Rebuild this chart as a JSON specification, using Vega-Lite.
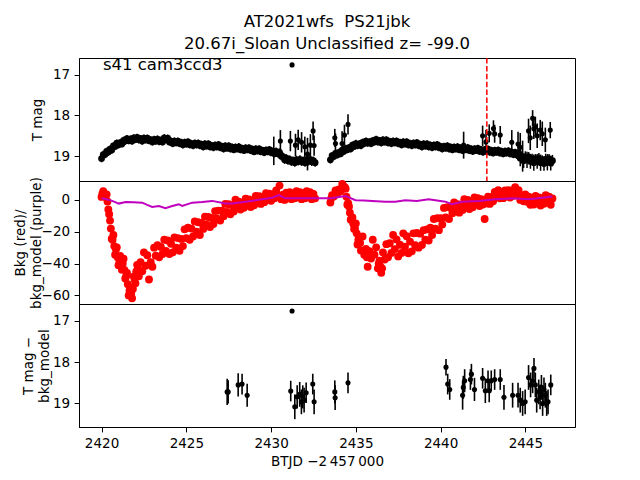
{
"$schema":"https://vega.github.io/schema/vega-lite/v6.json",
"background":"white",
"padding":{"left":12,"top":13,"right":10,"bottom":5},
"bounds":"flush",
"config":{"font":"DejaVu Sans","view":{"stroke":"black","strokeWidth":1},
"axis":{"grid":false,"domainColor":"black","tickColor":"black","tickSize":4.9,"tickWidth":1,"labelColor":"black","labelFontSize":13.5,"labelPadding":4.5,"titleColor":"black","titleFontSize":13.5,"titleFontWeight":"normal"},
"title":{"fontSize":16.5,"fontWeight":"normal","color":"black"}},
"datasets":{
"lc":[
{"t":2420.0,"m":19.06,"e":0.09,"b":1.9},{"t":2420.1,"m":18.96,"e":0.09,"b":5.5},{"t":2420.2,"m":18.96,"e":0.09,"b":2.2},{"t":2420.3,"m":18.88,"e":0.09,"b":3.4},{"t":2420.4,"m":18.90,"e":0.09,"b":-6},{"t":2420.5,"m":18.83,"e":0.09,"b":-13},{"t":2420.6,"m":18.85,"e":0.09,"b":-24.4},{"t":2420.7,"m":18.75,"e":0.09,"b":-22},{"t":2420.8,"m":18.76,"e":0.09,"b":-34.4},{"t":2420.9,"m":18.68,"e":0.09,"b":-29.8},
{"t":2421.0,"m":18.72,"e":0.09,"b":-41},{"t":2421.1,"m":18.67,"e":0.09,"b":-35.2},{"t":2421.2,"m":18.70,"e":0.09,"b":-43.8},{"t":2421.3,"m":18.61,"e":0.09,"b":-37},{"t":2421.4,"m":18.63,"e":0.09,"b":-49.4},{"t":2421.5,"m":18.57,"e":0.09,"b":-45.8},{"t":2421.6,"m":18.62,"e":0.09,"b":-60},{"t":2421.7,"m":18.58,"e":0.09,"b":-55.2},{"t":2421.8,"m":18.63,"e":0.09,"b":-61.8},{"t":2421.9,"m":18.55,"e":0.09,"b":-48},
{"t":2422.0,"m":18.59,"e":0.09,"b":-52.4},{"t":2422.1,"m":18.54,"e":0.09,"b":-40.8},{"t":2422.2,"m":18.60,"e":0.09,"b":-48},{"t":2422.3,"m":18.57,"e":0.09,"b":-39.2},{"t":2422.4,"m":18.63,"e":0.09,"b":-44.8},{"t":2422.5,"m":18.56,"e":0.09,"b":-33},{"t":2422.6,"m":18.60,"e":0.09,"b":-41.4},{"t":2422.7,"m":18.56,"e":0.09,"b":-34.8},{"t":2422.8,"m":18.62,"e":0.09,"b":-50},{"t":2422.9,"m":18.60,"e":0.09,"b":-39.2},
{"t":2423.0,"m":18.65,"e":0.09,"b":-42},{"t":2423.1,"m":18.59,"e":0.09,"b":-30},{"t":2423.2,"m":18.63,"e":0.09,"b":-35},{"t":2423.3,"m":18.58,"e":0.09,"b":-28.5},{"t":2423.4,"m":18.64,"e":0.09,"b":-36},{"t":2423.5,"m":18.61,"e":0.09,"b":-29.5},{"t":2423.6,"m":18.65,"e":0.09,"b":-34},{"t":2423.7,"m":18.55,"e":0.09,"b":-25},{"t":2423.8,"m":18.59,"e":0.09,"b":-32},{"t":2423.9,"m":18.56,"e":0.09,"b":-25.5},
{"t":2424.0,"m":18.65,"e":0.09,"b":-34},{"t":2424.1,"m":18.63,"e":0.09,"b":-27.5},{"t":2424.2,"m":18.69,"e":0.09,"b":-33},{"t":2424.3,"m":18.63,"e":0.09,"b":-23.5},{"t":2424.4,"m":18.67,"e":0.09,"b":-30},{"t":2424.5,"m":18.63,"e":0.09,"b":-24},{"t":2424.6,"m":18.69,"e":0.09,"b":-32},{"t":2424.7,"m":18.66,"e":0.09,"b":-24.5},{"t":2424.8,"m":18.72,"e":0.09,"b":-29},{"t":2424.9,"m":18.66,"e":0.09,"b":-18.5},
{"t":2425.0,"m":18.70,"e":0.09,"b":-24},{"t":2425.1,"m":18.65,"e":0.09,"b":-17.5},{"t":2425.2,"m":18.72,"e":0.09,"b":-25},{"t":2425.3,"m":18.69,"e":0.09,"b":-18},{"t":2425.4,"m":18.74,"e":0.09,"b":-23},{"t":2425.5,"m":18.68,"e":0.09,"b":-13.5},{"t":2425.6,"m":18.72,"e":0.09,"b":-20},{"t":2425.7,"m":18.68,"e":0.09,"b":-14},{"t":2425.8,"m":18.74,"e":0.09,"b":-22},{"t":2425.9,"m":18.71,"e":0.09,"b":-14.5},
{"t":2426.0,"m":18.77,"e":0.09,"b":-18.2},{"t":2426.1,"m":18.70,"e":0.09,"b":-10.5},{"t":2426.2,"m":18.75,"e":0.09,"b":-15.6},{"t":2426.3,"m":18.70,"e":0.09,"b":-10.7},{"t":2426.4,"m":18.77,"e":0.09,"b":-17},{"t":2426.5,"m":18.74,"e":0.09,"b":-11.3},{"t":2426.6,"m":18.79,"e":0.09,"b":-15.2},{"t":2426.7,"m":18.73,"e":0.09,"b":-7},{"t":2426.8,"m":18.77,"e":0.09,"b":-11.6},{"t":2426.9,"m":18.72,"e":0.09,"b":-6.7},
{"t":2427.0,"m":18.79,"e":0.09,"b":-13},{"t":2427.1,"m":18.76,"e":0.09,"b":-6.8},{"t":2427.2,"m":18.82,"e":0.09,"b":-10.2},{"t":2427.3,"m":18.75,"e":0.09,"b":-2.5},{"t":2427.4,"m":18.80,"e":0.09,"b":-7.6},{"t":2427.5,"m":18.75,"e":0.09,"b":-2.7},{"t":2427.6,"m":18.82,"e":0.09,"b":-9},{"t":2427.7,"m":18.78,"e":0.09,"b":-3.3},{"t":2427.8,"m":18.84,"e":0.09,"b":-7.2},{"t":2427.9,"m":18.78,"e":0.09,"b":0.2},
{"t":2428.0,"m":18.82,"e":0.09,"b":-4.7},{"t":2428.1,"m":18.77,"e":0.09,"b":-1.1},{"t":2428.2,"m":18.84,"e":0.09,"b":-6},{"t":2428.3,"m":18.81,"e":0.09,"b":-1.9},{"t":2428.4,"m":18.86,"e":0.09,"b":-4.9},{"t":2428.5,"m":18.80,"e":0.09,"b":0.8},{"t":2428.6,"m":18.84,"e":0.09,"b":-3.2},{"t":2428.7,"m":18.80,"e":0.09,"b":0.3},{"t":2428.8,"m":18.86,"e":0.09,"b":-4.5},{"t":2428.9,"m":18.83,"e":0.09,"b":-0.3},
{"t":2429.0,"m":18.89,"e":0.09,"b":-3.4},{"t":2429.1,"m":18.82,"e":0.09,"b":2.5},{"t":2429.2,"m":18.87,"e":0.09,"b":-1.2},{"t":2429.3,"m":18.82,"e":0.09,"b":2.3},{"t":2429.4,"m":18.89,"e":0.09,"b":-2.5},{"t":2429.5,"m":18.86,"e":0.09,"b":1.7},{"t":2429.6,"m":18.91,"e":0.09,"b":-1.4},{"t":2429.7,"m":18.85,"e":0.09,"b":4.2},{"t":2429.8,"m":18.89,"e":0.09,"b":0.3},{"t":2429.9,"m":18.84,"e":0.09,"b":3.9},
{"t":2430.0,"m":18.91,"e":0.09,"b":-0.5},{"t":2430.1,"m":18.88,"e":0.09,"b":3.3},{"t":2430.2,"m":18.94,"e":0.09,"b":1},{"t":2430.3,"m":18.88,"e":0.09,"b":6},{"t":2430.4,"m":18.94,"e":0.09,"b":3},{"t":2430.5,"m":18.91,"e":0.1,"b":9},{"t":2430.6,"m":19.00,"e":0.1,"b":0.5},{"t":2430.7,"m":19.01,"e":0.1,"b":3.3},{"t":2430.8,"m":19.09,"e":0.1,"b":0},{"t":2430.9,"m":19.05,"e":0.1,"b":4.5},
{"t":2431.0,"m":19.11,"e":0.1,"b":2},{"t":2431.1,"m":19.08,"e":0.1,"b":4.8},{"t":2431.2,"m":19.14,"e":0.1,"b":0.5},{"t":2431.3,"m":19.11,"e":0.1,"b":3.8},{"t":2431.4,"m":19.16,"e":0.1,"b":1},{"t":2431.5,"m":19.09,"e":0.1,"b":5.5},{"t":2431.6,"m":19.13,"e":0.1,"b":2},{"t":2431.7,"m":19.08,"e":0.1,"b":4.8},{"t":2431.8,"m":19.14,"e":0.1,"b":0.5},{"t":2431.9,"m":19.11,"e":0.1,"b":3.8},
{"t":2432.0,"m":19.16,"e":0.1,"b":1},{"t":2432.1,"m":19.09,"e":0.1,"b":5.5},{"t":2432.2,"m":19.13,"e":0.1,"b":2},{"t":2432.3,"m":19.08,"e":0.1,"b":4.8},{"t":2432.4,"m":19.14,"e":0.1,"b":0.5},{"t":2432.5,"m":19.11,"e":0.1,"b":3.8},{"t":2432.6,"m":19.16,"e":0.1,"b":1},
{"t":2433.5,"m":19.09,"e":0.09,"b":-1.6},{"t":2433.6,"m":18.99,"e":0.09,"b":3},{"t":2433.7,"m":19.01,"e":0.09,"b":2.2},{"t":2433.8,"m":18.93,"e":0.09,"b":5.9},{"t":2433.9,"m":18.97,"e":0.09,"b":3.5},
{"t":2434.0,"m":18.91,"e":0.09,"b":6.6},{"t":2434.1,"m":18.94,"e":0.09,"b":5.4},{"t":2434.2,"m":18.85,"e":0.09,"b":10},{"t":2434.3,"m":18.88,"e":0.09,"b":7.2},{"t":2434.4,"m":18.81,"e":0.09,"b":7.1},{"t":2434.5,"m":18.84,"e":0.09,"b":-3},{"t":2434.6,"m":18.79,"e":0.09,"b":-4.1},{"t":2434.7,"m":18.82,"e":0.09,"b":-12.4},{"t":2434.8,"m":18.73,"e":0.09,"b":-11},{"t":2434.9,"m":18.76,"e":0.09,"b":-18.2},
{"t":2435.0,"m":18.69,"e":0.09,"b":-14.8},{"t":2435.1,"m":18.74,"e":0.09,"b":-28},{"t":2435.2,"m":18.70,"e":0.09,"b":-23.2},{"t":2435.3,"m":18.74,"e":0.09,"b":-31.8},{"t":2435.4,"m":18.66,"e":0.09,"b":-23},{"t":2435.5,"m":18.69,"e":0.09,"b":-34.4},{"t":2435.6,"m":18.63,"e":0.09,"b":-30.8},{"t":2435.7,"m":18.68,"e":0.09,"b":-42},{"t":2435.8,"m":18.65,"e":0.09,"b":-32.2},{"t":2435.9,"m":18.69,"e":0.09,"b":-36.8},
{"t":2436.0,"m":18.62,"e":0.09,"b":-25},{"t":2436.1,"m":18.65,"e":0.09,"b":-34.4},{"t":2436.2,"m":18.59,"e":0.09,"b":-29.8},{"t":2436.3,"m":18.65,"e":0.09,"b":-43},{"t":2436.4,"m":18.62,"e":0.09,"b":-38.2},{"t":2436.5,"m":18.67,"e":0.09,"b":-45.8},{"t":2436.6,"m":18.60,"e":0.09,"b":-33},{"t":2436.7,"m":18.65,"e":0.09,"b":-37.4},{"t":2436.8,"m":18.60,"e":0.09,"b":-27.8},{"t":2436.9,"m":18.67,"e":0.09,"b":-36},
{"t":2437.0,"m":18.64,"e":0.09,"b":-27.2},{"t":2437.1,"m":18.69,"e":0.09,"b":-33.3},{"t":2437.2,"m":18.63,"e":0.09,"b":-22},{"t":2437.3,"m":18.67,"e":0.09,"b":-30.9},{"t":2437.4,"m":18.63,"e":0.09,"b":-24.8},{"t":2437.5,"m":18.69,"e":0.09,"b":-35.5},{"t":2437.6,"m":18.66,"e":0.09,"b":-28.2},{"t":2437.7,"m":18.72,"e":0.09,"b":-33.3},{"t":2437.8,"m":18.65,"e":0.09,"b":-21},{"t":2437.9,"m":18.70,"e":0.09,"b":-29.4},
{"t":2438.0,"m":18.65,"e":0.09,"b":-22.8},{"t":2438.1,"m":18.72,"e":0.09,"b":-33.5},{"t":2438.2,"m":18.69,"e":0.09,"b":-26.2},{"t":2438.3,"m":18.74,"e":0.09,"b":-32.3},{"t":2438.4,"m":18.68,"e":0.09,"b":-21},{"t":2438.5,"m":18.72,"e":0.09,"b":-28.4},{"t":2438.6,"m":18.67,"e":0.09,"b":-20.8},{"t":2438.7,"m":18.74,"e":0.09,"b":-30},{"t":2438.8,"m":18.71,"e":0.09,"b":-21.2},{"t":2438.9,"m":18.77,"e":0.09,"b":-28.3},
{"t":2439.0,"m":18.70,"e":0.09,"b":-19},{"t":2439.1,"m":18.75,"e":0.09,"b":-25},{"t":2439.2,"m":18.70,"e":0.09,"b":-18.5},{"t":2439.3,"m":18.77,"e":0.09,"b":-25.5},{"t":2439.4,"m":18.73,"e":0.09,"b":-17.5},{"t":2439.5,"m":18.79,"e":0.09,"b":-22},{"t":2439.6,"m":18.73,"e":0.09,"b":-12},{"t":2439.7,"m":18.77,"e":0.09,"b":-18},{"t":2439.8,"m":18.72,"e":0.09,"b":-11.5},{"t":2439.9,"m":18.79,"e":0.09,"b":-19},
{"t":2440.0,"m":18.76,"e":0.09,"b":-11.5},{"t":2440.1,"m":18.82,"e":0.09,"b":-15.5},{"t":2440.2,"m":18.76,"e":0.09,"b":-5},{"t":2440.3,"m":18.80,"e":0.09,"b":-11},{"t":2440.4,"m":18.75,"e":0.09,"b":-4.5},{"t":2440.5,"m":18.82,"e":0.09,"b":-12},{"t":2440.6,"m":18.78,"e":0.09,"b":-5},{"t":2440.7,"m":18.84,"e":0.09,"b":-8.3},{"t":2440.8,"m":18.78,"e":0.09,"b":-1.5},{"t":2440.9,"m":18.82,"e":0.09,"b":-6.4},
{"t":2441.0,"m":18.77,"e":0.09,"b":-2.6},{"t":2441.1,"m":18.84,"e":0.09,"b":-8},{"t":2441.2,"m":18.80,"e":0.09,"b":-3},{"t":2441.3,"m":18.86,"e":0.09,"b":-6.3},{"t":2441.4,"m":18.80,"e":0.09,"b":0.5},{"t":2441.5,"m":18.84,"e":0.09,"b":-4.2},{"t":2441.6,"m":18.79,"e":0.09,"b":0},{"t":2441.7,"m":18.86,"e":0.09,"b":-5.7},{"t":2441.8,"m":18.82,"e":0.09,"b":-1},{"t":2441.9,"m":18.88,"e":0.09,"b":-4.6},
{"t":2442.0,"m":18.82,"e":0.09,"b":1.5},{"t":2442.1,"m":18.86,"e":0.09,"b":-2.4},{"t":2442.2,"m":18.81,"e":0.09,"b":1.1},{"t":2442.3,"m":18.88,"e":0.09,"b":-3.8},{"t":2442.4,"m":18.84,"e":0.09,"b":0.4},{"t":2442.5,"m":18.90,"e":0.09,"b":-2.9},{"t":2442.6,"m":18.84,"e":0.09,"b":-12},{"t":2442.7,"m":18.88,"e":0.09,"b":-2.2},{"t":2442.8,"m":18.83,"e":0.09,"b":2.1},{"t":2442.9,"m":18.90,"e":0.09,"b":-2.5},
{"t":2443.0,"m":18.86,"e":0.09,"b":1.9},{"t":2443.1,"m":18.92,"e":0.09,"b":-0.9},{"t":2443.2,"m":18.86,"e":0.09,"b":5},{"t":2443.3,"m":18.90,"e":0.09,"b":1.8},{"t":2443.4,"m":18.85,"e":0.09,"b":6.1},{"t":2443.5,"m":18.92,"e":0.09,"b":1},{"t":2443.6,"m":18.88,"e":0.09,"b":4.9},{"t":2443.7,"m":18.94,"e":0.09,"b":1.1},{"t":2443.8,"m":18.88,"e":0.09,"b":6},{"t":2443.9,"m":18.92,"e":0.09,"b":2.3},
{"t":2444.0,"m":18.87,"e":0.09,"b":6.1},{"t":2444.1,"m":18.94,"e":0.09,"b":1.5},{"t":2444.2,"m":18.90,"e":0.09,"b":5.9},{"t":2444.3,"m":18.96,"e":0.09,"b":2.6},{"t":2444.4,"m":18.91,"e":0.09,"b":8},{"t":2444.5,"m":18.97,"e":0.1,"b":3.3},{"t":2444.6,"m":18.92,"e":0.14,"b":6.1},{"t":2444.7,"m":19.05,"e":0.2,"b":0},{"t":2444.8,"m":19.01,"e":0.12,"b":2.9},{"t":2444.9,"m":19.11,"e":0.18,"b":-0.9},
{"t":2445.0,"m":19.02,"e":0.14,"b":3.5},{"t":2445.1,"m":19.09,"e":0.2,"b":-1.2},{"t":2445.2,"m":19.02,"e":0.12,"b":2.1},{"t":2445.3,"m":19.13,"e":0.18,"b":-3},{"t":2445.4,"m":19.08,"e":0.14,"b":0.9},{"t":2445.5,"m":19.16,"e":0.2,"b":-2.9},{"t":2445.6,"m":19.07,"e":0.12,"b":2.5},{"t":2445.7,"m":19.13,"e":0.18,"b":-1.7},{"t":2445.8,"m":19.06,"e":0.14,"b":1.6},{"t":2445.9,"m":19.16,"e":0.2,"b":-3.5},
{"t":2446.0,"m":19.10,"e":0.12,"b":0.9},{"t":2446.1,"m":19.18,"e":0.18,"b":-2.4},{"t":2446.2,"m":19.08,"e":0.14,"b":3},{"t":2446.3,"m":19.15,"e":0.2,"b":-1.2},{"t":2446.4,"m":19.07,"e":0.12,"b":2.1},{"t":2446.5,"m":19.17,"e":0.18,"b":-3},{"t":2446.6,"m":19.11,"e":0.14,"b":0.9}
],
"bx":[
{"t":2420.05,"b":4},{"t":2420.35,"b":-1},{"t":2420.45,"b":-9},{"t":2420.55,"b":-18},{"t":2420.65,"b":-25},{"t":2420.75,"b":-29},{"t":2420.85,"b":-31},{"t":2420.95,"b":-36},{"t":2421.05,"b":-38},{"t":2421.15,"b":-40},{"t":2421.25,"b":-40},{"t":2421.35,"b":-44},{"t":2421.45,"b":-48},{"t":2421.55,"b":-53},{"t":2421.65,"b":-57},{"t":2421.75,"b":-59},{"t":2421.85,"b":-56},{"t":2421.95,"b":-50},{"t":2422.05,"b":-45},{"t":2422.15,"b":-43},
{"t":2433.55,"b":1},{"t":2434.25,"b":9},{"t":2434.35,"b":8},{"t":2434.45,"b":2},{"t":2434.55,"b":-2},{"t":2434.65,"b":-8},{"t":2434.75,"b":-12},{"t":2434.85,"b":-15},{"t":2434.95,"b":-18},{"t":2435.05,"b":-21},{"t":2435.15,"b":-25},{"t":2435.25,"b":-27},{"t":2435.65,"b":-36},{"t":2436.35,"b":-40},{"t":2436.45,"b":-42},{"t":2436.55,"b":-43}
],
"p1x":[
{"t":2430.16,"m":18.87,"e":0.35},{"t":2430.55,"m":18.63,"e":0.27},{"t":2431.14,"m":18.63,"e":0.25},{"t":2431.24,"m":16.76,"e":0},{"t":2431.44,"m":18.73,"e":0.28},{"t":2431.6,"m":18.6,"e":0.25},{"t":2431.8,"m":18.66,"e":0.25},{"t":2431.99,"m":18.77,"e":0.25},{"t":2432.15,"m":18.95,"e":0.4},{"t":2432.32,"m":18.73,"e":0.27},{"t":2432.48,"m":18.38,"e":0.23},{"t":2432.54,"m":18.74,"e":0.25},
{"t":2433.76,"m":18.55,"e":0.22},{"t":2433.8,"m":18.69,"e":0.25},{"t":2434.19,"m":18.69,"e":0.3},{"t":2434.33,"m":18.48,"e":0.25},{"t":2434.54,"m":18.22,"e":0.25},
{"t":2441.36,"m":18.73,"e":0.33},{"t":2442.48,"m":18.5,"e":0.25},{"t":2442.68,"m":18.65,"e":0.3},{"t":2442.87,"m":18.44,"e":0.22},{"t":2443.12,"m":18.32,"e":0.2},{"t":2443.19,"m":18.45,"e":0.22},{"t":2443.52,"m":18.48,"e":0.22},{"t":2444.2,"m":18.66,"e":0.3},{"t":2444.57,"m":18.7,"e":0.3},{"t":2444.7,"m":18.78,"e":0.35},{"t":2444.84,"m":19.0,"e":0.38},
{"t":2445.19,"m":18.38,"e":0.3},{"t":2445.29,"m":18.55,"e":0.3},{"t":2445.43,"m":18.07,"e":0.2},{"t":2445.5,"m":18.33,"e":0.25},{"t":2445.59,"m":18.28,"e":0.25},{"t":2445.7,"m":18.5,"e":0.3},{"t":2445.88,"m":18.36,"e":0.25},{"t":2446.0,"m":18.45,"e":0.3},{"t":2446.18,"m":18.6,"e":0.3},{"t":2446.47,"m":18.36,"e":0.2}
],
"model":[
{"t":2420.0,"v":1.0},{"t":2420.3,"v":0.4},{"t":2420.63,"v":-0.6},{"t":2421.02,"v":-2.3},{"t":2421.42,"v":-1.3},{"t":2421.9,"v":-1.5},{"t":2422.4,"v":-1.7},{"t":2422.69,"v":-3.1},{"t":2422.99,"v":-4.4},{"t":2423.38,"v":-3.8},{"t":2423.77,"v":-5.2},{"t":2424.17,"v":-3.8},{"t":2424.56,"v":-2.7},{"t":2424.76,"v":-3.8},{"t":2425.35,"v":-1.7},{"t":2425.94,"v":-1.3},{"t":2426.53,"v":-0.6},{"t":2427.31,"v":-2.3},{"t":2427.7,"v":-2.3},{"t":2428.49,"v":-1.1},{"t":2429.47,"v":0.4},{"t":2430.06,"v":1.4},{"t":2430.46,"v":3.1},{"t":2430.85,"v":1.0},{"t":2431.6,"v":1.0},{"t":2432.42,"v":1.0},{"t":2432.66,"v":1.0},{"t":2433.6,"v":1.0},{"t":2434.0,"v":1.8},{"t":2434.39,"v":2.5},{"t":2434.98,"v":-0.2},{"t":2435.5,"v":-0.4},{"t":2435.96,"v":-0.6},{"t":2436.75,"v":-1.1},{"t":2437.33,"v":-1.1},{"t":2437.92,"v":-0.2},{"t":2438.6,"v":-0.6},{"t":2439.3,"v":0.4},{"t":2440.28,"v":-1.1},{"t":2440.68,"v":-2.7},{"t":2441.27,"v":-1.1},{"t":2442.25,"v":-0.6},{"t":2443.23,"v":0.4},{"t":2444.21,"v":1.0},{"t":2445.2,"v":0.4},{"t":2445.9,"v":1.2},{"t":2446.6,"v":2.1}
],
"p3":[
{"t":2427.41,"m":18.72,"e":0.32},{"t":2427.47,"m":18.72,"e":0.28},{"t":2428.06,"m":18.55,"e":0.28},{"t":2428.29,"m":18.53,"e":0.25},{"t":2428.59,"m":18.8,"e":0.28},{"t":2431.16,"m":18.7,"e":0.25},{"t":2431.24,"m":16.76,"e":0},{"t":2431.4,"m":19.08,"e":0.3},{"t":2431.54,"m":18.84,"e":0.28},{"t":2431.69,"m":18.78,"e":0.3},{"t":2431.79,"m":18.96,"e":0.3},{"t":2431.87,"m":18.84,"e":0.28},{"t":2431.95,"m":18.92,"e":0.3},{"t":2432.07,"m":18.74,"e":0.25},{"t":2432.46,"m":18.53,"e":0.25},{"t":2432.54,"m":18.96,"e":0.3},{"t":2433.76,"m":18.72,"e":0.28},{"t":2433.78,"m":18.86,"e":0.3},{"t":2434.54,"m":18.5,"e":0.25},
{"t":2440.32,"m":18.12,"e":0.2},{"t":2440.42,"m":18.53,"e":0.25},{"t":2440.54,"m":18.66,"e":0.25},{"t":2441.3,"m":18.8,"e":0.35},{"t":2441.34,"m":18.61,"e":0.28},{"t":2441.42,"m":18.45,"e":0.28},{"t":2441.76,"m":18.42,"e":0.25},{"t":2441.82,"m":18.29,"e":0.25},{"t":2442.0,"m":18.66,"e":0.28},{"t":2442.48,"m":18.39,"e":0.25},{"t":2442.64,"m":18.69,"e":0.3},{"t":2442.8,"m":18.45,"e":0.25},{"t":2442.87,"m":18.69,"e":0.28},{"t":2442.99,"m":18.45,"e":0.25},{"t":2443.19,"m":18.42,"e":0.25},{"t":2443.52,"m":18.42,"e":0.25},{"t":2443.74,"m":18.85,"e":0.3},
{"t":2444.25,"m":18.8,"e":0.3},{"t":2444.57,"m":18.8,"e":0.3},{"t":2444.7,"m":18.92,"e":0.3},{"t":2444.84,"m":19.0,"e":0.3},{"t":2444.99,"m":18.96,"e":0.3},{"t":2445.19,"m":18.37,"e":0.3},{"t":2445.31,"m":18.55,"e":0.3},{"t":2445.43,"m":18.45,"e":0.3},{"t":2445.51,"m":18.15,"e":0.25},{"t":2445.59,"m":18.55,"e":0.3},{"t":2445.67,"m":18.92,"e":0.3},{"t":2445.79,"m":18.72,"e":0.3},{"t":2445.87,"m":18.84,"e":0.3},{"t":2445.95,"m":18.61,"e":0.3},{"t":2446.02,"m":19.0,"e":0.3},{"t":2446.1,"m":18.67,"e":0.3},{"t":2446.18,"m":18.8,"e":0.3},{"t":2446.26,"m":19.0,"e":0.3},{"t":2446.34,"m":18.96,"e":0.3},{"t":2446.5,"m":18.55,"e":0.25}
]
},
"spacing":0,
"resolve":{"scale":{"x":"independent","y":"independent"}},
"vconcat":[
{"width":496,"height":123,
"title":{"text":["AT2021wfs \u00a0PS21jbk","20.67i_Sloan Unclassified z= -99.0"],"anchor":"middle","frame":"group","offset":-11.4,"lineHeight":22,"baseline":"bottom"},
"layer":[
{"data":{"name":"lc"},"mark":{"type":"errorbar","ticks":false,"color":"black","thickness":1.5},
"encoding":{"x":{"field":"t","type":"quantitative","scale":{"domain":[2418.67,2447.93],"nice":false,"zero":false},"axis":null},
"y":{"field":"m","type":"quantitative","title":"T mag","scale":{"domain":[16.59,19.61],"nice":false,"zero":false,"reverse":true},
"axis":{"values":[17,18,19],"format":"d","title":"T mag","titleX":-42,"titleY":61.5,"titleAngle":270,"titleAlign":"center","titleBaseline":"middle"}},
"yError":{"field":"e"}}},
{"data":{"name":"lc"},"mark":{"type":"circle","size":46,"color":"black","opacity":1},
"encoding":{"x":{"field":"t","type":"quantitative"},"y":{"field":"m","type":"quantitative","title":"T mag"}}},
{"data":{"name":"p1x"},"mark":{"type":"errorbar","ticks":false,"color":"black","thickness":1.6},
"encoding":{"x":{"field":"t","type":"quantitative"},"y":{"field":"m","type":"quantitative","title":"T mag"},"yError":{"field":"e"}}},
{"data":{"name":"p1x"},"mark":{"type":"circle","size":26,"color":"black","opacity":1},
"encoding":{"x":{"field":"t","type":"quantitative"},"y":{"field":"m","type":"quantitative","title":"T mag"}}},
{"data":{"values":[{"t":2442.73}]},"mark":{"type":"rule","color":"#ff0000","strokeWidth":1.5,"strokeDash":[5.5,2.4]},
"encoding":{"x":{"field":"t","type":"quantitative"}}},
{"data":{"values":[{"t":2420.08,"m":16.877,"label":"s41 cam3ccd3"}]},"mark":{"type":"text","align":"left","baseline":"alphabetic","fontSize":16.5,"color":"black"},
"encoding":{"x":{"field":"t","type":"quantitative"},"y":{"field":"m","type":"quantitative","title":"T mag"},"text":{"field":"label"}}}
]},
{"width":496,"height":123,
"layer":[
{"data":{"name":"lc"},"mark":{"type":"circle","size":62,"color":"#ff0000","opacity":1},
"encoding":{"x":{"field":"t","type":"quantitative","scale":{"domain":[2418.67,2447.93],"nice":false,"zero":false},"axis":null},
"y":{"field":"b","type":"quantitative","title":["Bkg (red)/","bkg_model (purple)"],"scale":{"domain":[-65.4,11.9],"nice":false,"zero":false},
"axis":{"values":[0,-20,-40,-60],"format":"d","titleX":-59,"titleY":61.5,"titleAngle":270,"titleAlign":"center","titleBaseline":"middle","titleLineHeight":16.7}}}},
{"data":{"name":"bx"},"mark":{"type":"circle","size":62,"color":"#ff0000","opacity":1},
"encoding":{"x":{"field":"t","type":"quantitative"},"y":{"field":"b","type":"quantitative","title":["Bkg (red)/","bkg_model (purple)"]}}},
{"data":{"name":"model"},"mark":{"type":"line","color":"#bf00bf","strokeWidth":2},
"encoding":{"x":{"field":"t","type":"quantitative"},"y":{"field":"v","type":"quantitative","title":["Bkg (red)/","bkg_model (purple)"]}}}
]},
{"width":496,"height":123,
"layer":[
{"data":{"name":"p3"},"mark":{"type":"errorbar","ticks":false,"color":"black","thickness":1.6},
"encoding":{"x":{"field":"t","type":"quantitative","title":"BTJD \u22122\u2009457\u2009000","scale":{"domain":[2418.67,2447.93],"nice":false,"zero":false},
"axis":{"values":[2420,2425,2430,2435,2440,2445],"format":"d","labelPadding":5,"titlePadding":4}},
"y":{"field":"m","type":"quantitative","title":["T mag \u2212","bkg_model"],"scale":{"domain":[16.59,19.57],"nice":false,"zero":false,"reverse":true},
"axis":{"values":[17,18,19],"format":"d","titleX":-51,"titleY":61.5,"titleAngle":270,"titleAlign":"center","titleBaseline":"middle","titleLineHeight":16.7}},
"yError":{"field":"e"}}},
{"data":{"name":"p3"},"mark":{"type":"circle","size":26,"color":"black","opacity":1},
"encoding":{"x":{"field":"t","type":"quantitative","title":"BTJD \u22122\u2009457\u2009000"},"y":{"field":"m","type":"quantitative","title":["T mag \u2212","bkg_model"]}}}
]}
]
}
